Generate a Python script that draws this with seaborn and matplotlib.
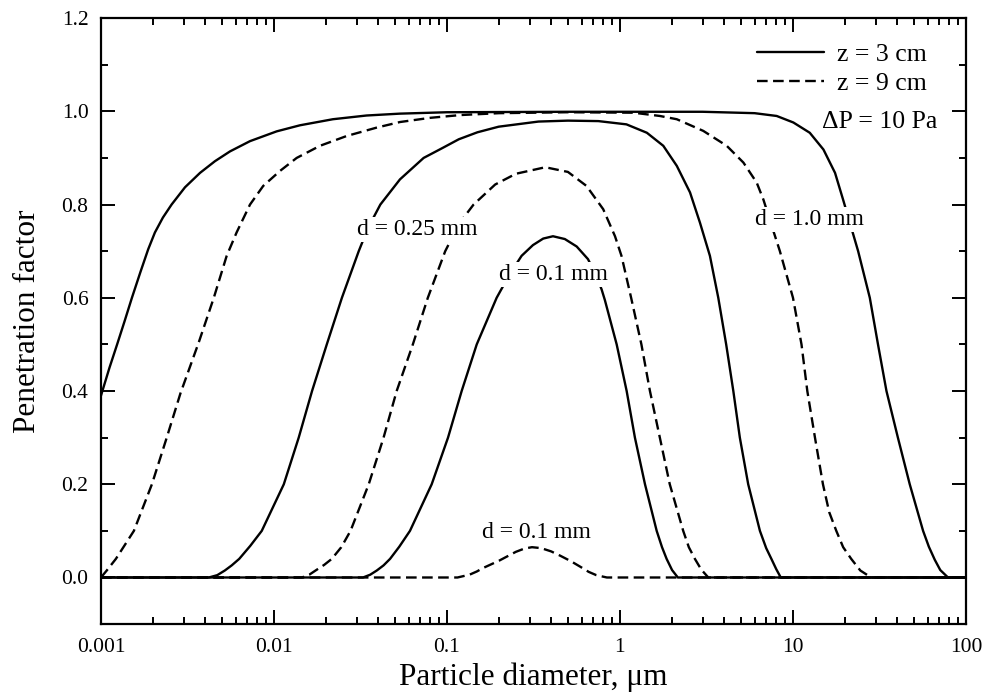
import numpy as np
import pandas as pd
import matplotlib
matplotlib.use("Agg")
import matplotlib.pyplot as plt
import matplotlib.ticker as mticker
from matplotlib.lines import Line2D
import seaborn as sns

# values (x = particle diameter in um, y = penetration factor)
# d = 1.0 mm, z = 3 cm
x_a = [0.001, 0.00112, 0.00124, 0.00137, 0.00151, 0.00169, 0.001875, 0.00205, 0.00228, 0.00256,
       0.00306, 0.00374, 0.00456, 0.00557, 0.00727, 0.01037, 0.01413, 0.0219, 0.0343, 0.0535,
       0.1, 0.5, 3.0, 6.0, 8.05, 10.05, 12.5, 15.0, 17.5, 19.5, 23.8, 27.8, 31.0, 34.7, 40.4,
       47.3, 56.5, 61.0, 66.0, 71.0, 78.7, 100]
y_a = [0.39, 0.45, 0.5, 0.55, 0.6, 0.655, 0.704, 0.74, 0.772, 0.8,
       0.837, 0.868, 0.893, 0.914, 0.936, 0.957, 0.97, 0.983, 0.991, 0.995,
       0.998, 0.999, 0.999, 0.996, 0.99, 0.976, 0.954, 0.918, 0.868, 0.81, 0.7, 0.6, 0.5, 0.4, 0.3,
       0.2, 0.1, 0.066, 0.038, 0.016, 0.0, 0.0]

# d = 1.0 mm, z = 9 cm
x_b = [0.001, 0.00108, 0.00122, 0.00155, 0.00197, 0.0024, 0.00288, 0.00368, 0.00449, 0.00533,
       0.00608, 0.00727, 0.00867, 0.01083, 0.01353, 0.01845, 0.0263, 0.0392, 0.0535, 0.08,
       0.12, 0.2, 0.5, 1.2, 1.7, 2.13, 3.03, 4.14, 5.17, 6.17, 6.74, 7.6, 8.4, 10.0, 11.2,
       12.1, 13.4, 14.9, 16.2, 17.8, 19.5, 21.7, 24.5, 28.3, 100]
y_b = [0.0, 0.015, 0.04, 0.1, 0.2, 0.3, 0.395, 0.505, 0.6, 0.69,
       0.74, 0.8, 0.84, 0.872, 0.9, 0.926, 0.947, 0.965, 0.977, 0.986,
       0.992, 0.996, 0.998, 0.997, 0.99, 0.983, 0.958, 0.926, 0.89, 0.847, 0.811, 0.75, 0.7, 0.6, 0.5,
       0.4, 0.3, 0.2, 0.14, 0.1, 0.065, 0.04, 0.015, 0.0, 0.0]

# d = 0.25 mm, z = 3 cm
x_c = [0.001, 0.0042, 0.0047, 0.0052, 0.0057, 0.0063, 0.0073, 0.0085, 0.0114, 0.0139, 0.0166,
       0.0202, 0.0247, 0.0309, 0.035, 0.0412, 0.0535, 0.0733, 0.095, 0.117, 0.15, 0.199, 0.338,
       0.5, 0.75, 1.09, 1.43, 1.78, 2.13, 2.54, 2.9, 3.31, 3.7, 4.11, 4.52, 4.93, 5.51, 6.44,
       7.0, 7.5, 8.0, 8.5, 100]
y_c = [0.0, 0.0, 0.005, 0.015, 0.026, 0.04, 0.068, 0.1, 0.2, 0.3, 0.4,
       0.5, 0.6, 0.7, 0.75, 0.8, 0.854, 0.9, 0.922, 0.94, 0.955, 0.967, 0.978,
       0.98, 0.979, 0.972, 0.954, 0.926, 0.883, 0.826, 0.761, 0.69, 0.6, 0.5, 0.4, 0.3, 0.2, 0.1,
       0.063, 0.04, 0.018, 0.0, 0.0]

# d = 0.25 mm, z = 9 cm
x_d = [0.001, 0.0145, 0.016, 0.0174, 0.0195, 0.0216, 0.0245, 0.0277, 0.0353, 0.043, 0.0512,
       0.0635, 0.0775, 0.0977, 0.118, 0.1425, 0.19, 0.25, 0.37, 0.5, 0.64, 0.80, 0.936, 1.02,
       1.16, 1.33, 1.49, 1.70, 1.94, 2.32, 2.5, 2.71, 2.95, 3.24, 100]
y_d = [0.0, 0.0, 0.006, 0.015, 0.027, 0.04, 0.065, 0.1, 0.2, 0.3, 0.4,
       0.5, 0.6, 0.7, 0.76, 0.8, 0.843, 0.866, 0.88, 0.87, 0.84, 0.79, 0.732, 0.69,
       0.6, 0.5, 0.4, 0.3, 0.2, 0.1, 0.065, 0.04, 0.017, 0.0, 0.0]

# d = 0.1 mm, z = 3 cm
x_e = [0.001, 0.0327, 0.036, 0.0393, 0.043, 0.0469, 0.053, 0.0611, 0.0816, 0.1014, 0.1216,
       0.1486, 0.1937, 0.23, 0.27, 0.314, 0.36, 0.41, 0.48, 0.562, 0.653, 0.72, 0.783, 0.818,
       0.957, 1.093, 1.22, 1.395, 1.63, 1.75, 1.86, 2.0, 2.16, 100]
y_e = [0.0, 0.0, 0.006, 0.015, 0.026, 0.04, 0.066, 0.1, 0.2, 0.3, 0.4,
       0.5, 0.6, 0.65, 0.69, 0.713, 0.727, 0.732, 0.726, 0.71, 0.683, 0.652, 0.618, 0.595,
       0.5, 0.4, 0.3, 0.2, 0.1, 0.065, 0.04, 0.016, 0.0, 0.0]

# d = 0.1 mm, z = 9 cm
x_f = [0.001, 0.115, 0.135, 0.149, 0.161, 0.2, 0.25, 0.28, 0.31, 0.35, 0.4, 0.45, 0.52, 0.59,
       0.66, 0.73, 0.84, 100]
y_f = [0.0, 0.0, 0.006, 0.013, 0.02, 0.036, 0.055, 0.062, 0.065, 0.063, 0.056, 0.047, 0.035, 0.023,
       0.012, 0.005, 0.0, 0.0]

curves = [
    ("d1.0_z3", x_a, y_a, "solid"),
    ("d1.0_z9", x_b, y_b, "dashed"),
    ("d0.25_z3", x_c, y_c, "solid"),
    ("d0.25_z9", x_d, y_d, "dashed"),
    ("d0.1_z3", x_e, y_e, "solid"),
    ("d0.1_z9", x_f, y_f, "dashed"),
]

x_ticks = [0.001, 0.01, 0.1, 1, 10, 100]
x_tick_labels = ["0.001", "0.01", "0.1", "1", "10", "100"]
y_ticks = [0.0, 0.2, 0.4, 0.6, 0.8, 1.0, 1.2]
y_tick_labels = ["0.0", "0.2", "0.4", "0.6", "0.8", "1.0", "1.2"]

sns.set_style("ticks")
plt.rcParams['font.family'] = ['Liberation Serif', 'DejaVu Serif']
for key in ['text.color', 'axes.labelcolor', 'xtick.color', 'ytick.color', 'axes.edgecolor']:
    plt.rcParams[key] = 'black'

fig, ax = plt.subplots(figsize=(9.84, 6.95), dpi=100)
fig.subplots_adjust(left=0.1026, right=0.9817, bottom=0.102, top=0.974)

dash = (4.5, 2.3)
for name, xs, ys, style in curves:
    df = pd.DataFrame({"x": xs, "y": ys})
    sns.lineplot(data=df, x="x", y="y", ax=ax, estimator=None, sort=False,
                 color="black", linewidth=1.7)
    if style == "dashed":
        ax.lines[-1].set_dashes(dash)

ax.set_xscale("log")
ax.set_xlim(0.001, 100)
ax.set_ylim(-0.1, 1.2)
ax.set_xticks(x_ticks)
ax.set_xticklabels(x_tick_labels)
ax.xaxis.set_minor_locator(mticker.LogLocator(base=10, subs=np.arange(2, 10)))
ax.xaxis.set_minor_formatter(mticker.NullFormatter())
ax.set_yticks(y_ticks)
ax.set_yticklabels(y_tick_labels)
ax.yaxis.set_minor_locator(mticker.MultipleLocator(0.1))

ax.tick_params(which="both", direction="in", top=True, right=True, width=1.4, labelsize=15.5)
ax.tick_params(which="major", length=10)
ax.tick_params(which="minor", length=5)
ax.tick_params(axis="x", which="major", pad=10)
ax.tick_params(axis="y", which="major", pad=9)
for sp in ax.spines.values():
    sp.set_linewidth(1.6)

ax.set_xlabel("Particle diameter, μm", fontsize=22.5, labelpad=4)
ax.set_ylabel("Penetration factor", fontsize=22.5, labelpad=14)

# curve labels, white box breaks the lines like in the original
box = dict(facecolor="white", edgecolor="none", pad=1.5)
ax.text(0.067, 0.747, "d = 0.25 mm", fontsize=17, ha="center", va="center", bbox=box, zorder=5)
ax.text(0.415, 0.65, "d = 0.1 mm", fontsize=17, ha="center", va="center", bbox=box, zorder=5)
ax.text(12.4, 0.768, "d = 1.0 mm", fontsize=17, ha="center", va="center", bbox=box, zorder=5)
ax.text(0.33, 0.097, "d = 0.1 mm", fontsize=17, ha="center", va="center", bbox=box, zorder=5)

handles = [Line2D([], [], color="black", linewidth=1.7),
           Line2D([], [], color="black", linewidth=1.7, dashes=dash)]
ax.legend(handles, ["z = 3 cm", "z = 9 cm"], loc="upper right", bbox_to_anchor=(0.978, 0.993),
          frameon=False, fontsize=18.5, handlelength=2.6, handletextpad=0.5, labelspacing=0.25,
          borderpad=0.3)
ax.text(0.967, 0.828, "ΔP = 10 Pa", transform=ax.transAxes, fontsize=18.5, ha="right", va="center")

fig.savefig("out.png", dpi=100)
